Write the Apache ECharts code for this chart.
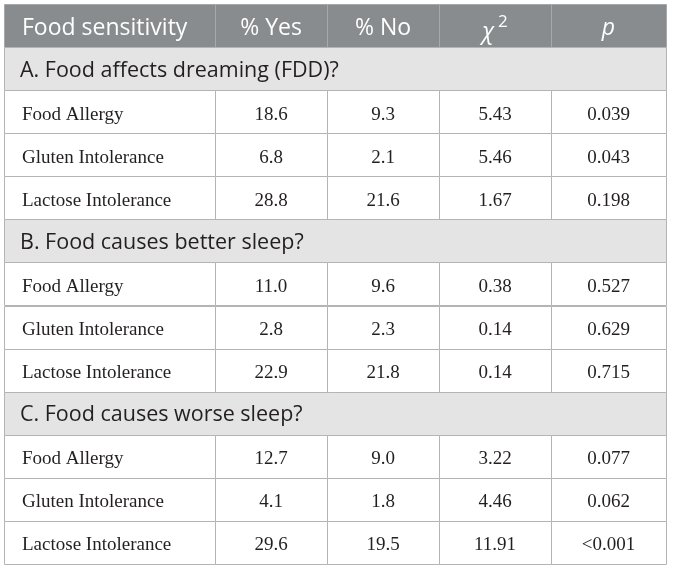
<!DOCTYPE html>
<html>
<head>
<meta charset="utf-8">
<script src="https://cdn.jsdelivr.net/npm/echarts@6/dist/echarts.min.js"></script>
<style>
  html, body { margin: 0; padding: 0; background: #fff; }
  #tabla { width: 673px; height: 571px; }
</style>
</head>
<body>
<div id="tabla"></div>
<script>
// datos de la tabla
const columnas = ["Food sensitivity", "% Yes", "% No", "χ2", "p"];
const secciones = [
  "A. Food affects dreaming (FDD)?",
  "B. Food causes better sleep?",
  "C. Food causes worse sleep?",
];
const alimentos = ["Food Allergy", "Gluten Intolerance", "Lactose Intolerance"];
const pctYes = ["18.6", "6.8", "28.8", "11.0", "2.8", "22.9", "12.7", "4.1", "29.6"];
const pctNo = ["9.3", "2.1", "21.6", "9.6", "2.3", "21.8", "9.0", "1.8", "19.5"];
const chi2 = ["5.43", "5.46", "1.67", "0.38", "0.14", "0.14", "3.22", "4.46", "11.91"];
const pValor = ["0.039", "0.043", "0.198", "0.527", "0.629", "0.715", "0.077", "0.062", "<0.001"];

// bordes de columnas (en px de tabla)
const bordesCol = [0, 211, 323, 435, 547, 662];

const SANS = "'Open Sans', 'Noto Sans', sans-serif";
const SERIF = "'Liberation Serif', 'DejaVu Serif', serif";

// armar filas: header, luego por cada seccion 1 fila de titulo + 3 filas de datos
const celdas = [];
let fila = 0;
columnas.forEach((c, i) => celdas.push({ value: [i, fila], tipo: "header", texto: c }));
fila++;
secciones.forEach((s, si) => {
  celdas.push({ value: [0, fila], tipo: "seccion", texto: s });
  fila++;
  alimentos.forEach((a, ai) => {
    const k = si * 3 + ai;
    const vals = [a, pctYes[k], pctNo[k], chi2[k], pValor[k]];
    vals.forEach((v, ci) => celdas.push({ value: [ci, fila], tipo: "dato", texto: v }));
    fila++;
  });
});
const totalFilas = fila;
const filasCat = Array.from({ length: totalFilas }, (_, i) => String(i));

function renderCelda(params, api) {
  const d = celdas[params.dataIndex];
  const ci = api.value(0);
  const ri = api.value(1);
  const alto = api.size([0, 1])[1];
  const centro = api.coord([0, ri]);
  const y0 = centro[1] - alto / 2;
  let x0 = api.coord([bordesCol[ci], ri])[0];
  let x1 = api.coord([bordesCol[ci + 1], ri])[0];
  if (d.tipo === "seccion") x1 = api.coord([bordesCol[bordesCol.length - 1], ri])[0];

  const fondo = { header: "#898c8e", seccion: "#e3e4e3", dato: "#ffffff" }[d.tipo];
  const borde = d.tipo === "header" ? "#a6a8aa" : "#b4b4b4";

  const rect = {
    type: "rect",
    shape: { x: Math.round(x0) + 0.5, y: Math.round(y0) + 0.5, width: Math.round(x1 - x0), height: Math.round(alto) },
    style: { fill: fondo, stroke: borde, lineWidth: 1 },
  };

  const izq = ci === 0;
  const tx = izq ? x0 + 18 : (x0 + x1) / 2;
  const ty = y0 + alto / 2;
  let texto;
  if (d.tipo === "header") {
    if (d.texto === "χ2") {
      texto = {
        type: "text",
        style: {
          text: "{c|χ}{s|2}", x: tx, y: ty + 3, align: "center", verticalAlign: "middle",
          rich: {
            c: { fontFamily: SANS, fontSize: 23, fontStyle: "italic", fill: "#fff", lineHeight: 30, verticalAlign: "bottom" },
            s: { fontFamily: SANS, fontSize: 17, fill: "#fff", lineHeight: 30, verticalAlign: "top", padding: [0, 0, 0, 4] },
          },
        },
      };
    } else {
      texto = {
        type: "text",
        style: {
          text: d.texto, x: tx, y: ty + 3, align: izq ? "left" : "center", verticalAlign: "middle",
          fill: "#fff", fontFamily: SANS, fontSize: 23, fontStyle: d.texto === "p" ? "italic" : "normal",
        },
      };
    }
  } else if (d.tipo === "seccion") {
    texto = {
      type: "text",
      style: { text: d.texto, x: x0 + 16, y: ty + 2, align: "left", verticalAlign: "middle", fill: "#231f20", fontFamily: SANS, fontSize: 21.5 },
    };
  } else {
    texto = {
      type: "text",
      style: {
        text: d.texto, x: tx, y: ty + 3, align: izq ? "left" : "center", verticalAlign: "middle",
        fill: "#231f20", fontFamily: SERIF, fontSize: 19,
      },
    };
  }
  return { type: "group", children: [rect, texto] };
}

const chart = echarts.init(document.getElementById("tabla"), null, { renderer: "canvas" });
chart.setOption({
  animation: false,
  backgroundColor: "#fff",
  grid: { left: 4, top: 4, width: 662, height: 560 },
  xAxis: { type: "value", min: 0, max: bordesCol[bordesCol.length - 1], show: false },
  yAxis: { type: "category", data: filasCat, inverse: true, show: false },
  series: [
    {
      type: "custom",
      renderItem: renderCelda,
      data: celdas,
      encode: { x: 0, y: 1 },
      clip: false,
    },
  ],
});
</script>
</body>
</html>
